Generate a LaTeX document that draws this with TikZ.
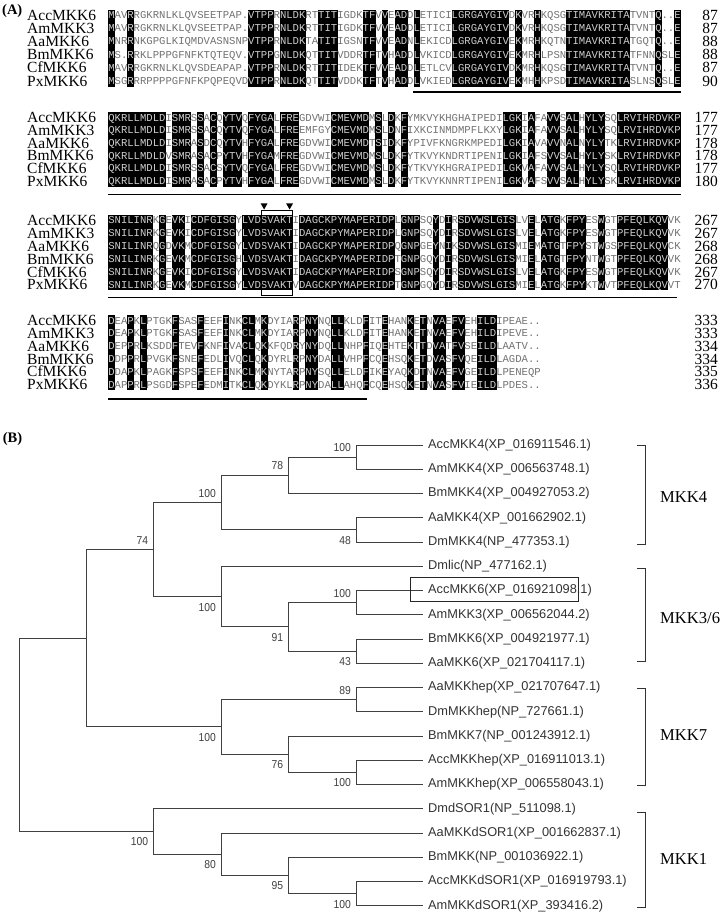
\documentclass[tikz,border=0pt]{standalone}
\usepackage{graphicx}
\usepackage{fontspec}
\setmainfont{Liberation Serif}
\newfontfamily\seqfont{Liberation Mono}
\newfontfamily\arialf{Liberation Sans}
\definecolor{seqon}{gray}{0.80}
\definecolor{seqoff}{gray}{0.45}

\ExplSyntaxOn
\int_step_inline:nn {6} { \tl_new:c { g_aln_row#1_tl } }
\tl_new:N \l_aln_first_tl
\tl_new:N \l_aln_ch_tl
\tl_new:N \l_aln_x_tl
\tl_new:N \l_aln_xr_tl
\tl_new:N \l_aln_xc_tl
\tl_new:N \l_aln_y_tl
\tl_new:N \l_aln_col_tl
\tl_const:Nn \c_aln_dot_tl { . }
\bool_new:N \l_aln_cons_bool

\NewDocumentCommand \setrows { m m m m m m }
  {
    \tl_gset:cn { g_aln_row1_tl } {#1}
    \tl_gset:cn { g_aln_row2_tl } {#2}
    \tl_gset:cn { g_aln_row3_tl } {#3}
    \tl_gset:cn { g_aln_row4_tl } {#4}
    \tl_gset:cn { g_aln_row5_tl } {#5}
    \tl_gset:cn { g_aln_row6_tl } {#6}
  }

% #1 column, #2 x0, #3 column width, #4 first baseline, #5 row step, #6 box top, #7 box bottom
\cs_new_protected:Npn \aln_col:nnnnnnn #1#2#3#4#5#6#7
  {
    \tl_set:Nx \l_aln_first_tl { \tl_item:cn { g_aln_row1_tl } {#1} }
    \bool_set_true:N \l_aln_cons_bool
    \tl_if_eq:NNT \l_aln_first_tl \c_aln_dot_tl { \bool_set_false:N \l_aln_cons_bool }
    \int_step_inline:nnn {2} {6}
      {
        \tl_set:Nx \l_aln_ch_tl { \tl_item:cn { g_aln_row##1_tl } {#1} }
        \tl_if_eq:NNF \l_aln_ch_tl \l_aln_first_tl
          { \bool_set_false:N \l_aln_cons_bool }
      }
    \tl_set:Nx \l_aln_x_tl { \fp_eval:n { #2 + (#1 - 1) * #3 } }
    \tl_set:Nx \l_aln_xr_tl { \fp_eval:n { #2 + #1 * #3 + 0.3 } }
    \tl_set:Nx \l_aln_xc_tl { \fp_eval:n { #2 + (#1 - 0.5) * #3 } }
    \bool_if:NTF \l_aln_cons_bool
      {
        \tl_set:Nn \l_aln_col_tl { seqon }
        \fill[black]~(\l_aln_x_tl,#6)~rectangle~(\l_aln_xr_tl,#7);
      }
      { \tl_set:Nn \l_aln_col_tl { seqoff } }
    \int_step_inline:nnn {1} {6}
      {
        \tl_set:Nx \l_aln_ch_tl { \tl_item:cn { g_aln_row##1_tl } {#1} }
        \tl_set:Nx \l_aln_y_tl { \fp_eval:n { #4 + (##1 - 1) * #5 } }
        \node[seqch,text=\l_aln_col_tl]~at~(\l_aln_xc_tl,\l_aln_y_tl)~{\l_aln_ch_tl};
      }
  }

\NewDocumentCommand \drawblock { m m m m m m }
  {
    \int_step_inline:nn { \tl_count:c { g_aln_row1_tl } }
      { \aln_col:nnnnnnn {##1} {#1} {#2} {#3} {#4} {#5} {#6} }
  }
\ExplSyntaxOff

\newcommand\blocklabels[4]{%
  \foreach \rowname/\rownum [count=\i] in {#4} {
    \node[nm] (n#1\i) at (27,{#2+#3*(\i-1)}) {\rowname};
    \node[num] (c#1\i) at (718,{#2+#3*(\i-1)}) {\rownum};
  }}
\newcommand\bsv[1]{\scalebox{0.9}[1]{#1}}

\tikzset{
  seqch/.style={font=\seqfont\fontsize{10.6pt}{10.6pt}\selectfont, inner sep=0pt, anchor=base},
  nm/.style={font=\fontsize{15.5pt}{15.5pt}\selectfont, inner sep=0pt, anchor=base west, text height=10.4pt, text depth=0pt},
  num/.style={font=\fontsize{15.5pt}{15.5pt}\selectfont, inner sep=0pt, anchor=base east, text height=10.4pt, text depth=0pt},
  uline/.style={line width=1.4pt},
  tline/.style={draw=black!75, line width=0.9pt},
  leaf/.style={font=\arialf\fontsize{12.8pt}{12.8pt}\selectfont, text=black!80, anchor=west, inner xsep=5pt, inner ysep=1pt},
  bs/.style={font=\arialf\fontsize{11.5pt}{11.5pt}\selectfont, text=black!75, anchor=east, inner sep=0pt},
  clade/.style={font=\fontsize{16.6pt}{16.6pt}\selectfont, anchor=west, inner sep=0pt},
  panel/.style={font=\bfseries\fontsize{14.5pt}{14.5pt}\selectfont, anchor=west, inner sep=0pt},
  cbr/.style={draw=black!80, line width=0.9pt},
}

\begin{document}
\begin{tikzpicture}[x=1pt,y=-1pt]
\useasboundingbox (0,0) rectangle (720,913);
\fill[white] (0,0) rectangle (720,913);

% ---------------- Panel A ----------------
\node[panel] (pA) at (2,11.5) {(A)};

% block 1
\setrows
{MAVRRGKRNLKLQVSEETPAP.VTPPRNLDKRTTITIGDKTFVVEADDLETICILGRGAYGIVDKVRHKQSGTIMAVKRITATVNTQ..E}
{MAVRRGKRNLKLQVSEETPAP.VTPPRNLDKRTTITIGDKTFVVEADDLETICILGRGAYGIVDKVRHKQSGTIMAVKRITATVNTQ..E}
{MNRRNKGPGLKIQMDVASNSNPVTPPRNLDKTATITIGSNTFVVEADNLEKICDLGRGAYGIVEKMRHKQTNTIMAVKRITATGQTQ..E}
{MS.RRKLPPPGFNFKTQTEQV.VTPPGNLDKQTTITVDDRTFTVHADDLVKICDLGRGAYGIVEKMRHLPSNTIMAVKRITATFNNQSLE}
{MAVRRGKRNLKLQVSDEAPAP.VTPPRNLDKRTTITIDEKTFVVEADDLETLCVLGRGAYGIVDKMRHKQSGTIMAVKRITATVNTQ..E}
{MSGRRRPPPPGFNFKPQPEQVDVTPPRNLDKQTTITVDDKTFTVHADDLVKIEDLGRGAYGIVEKMHHKPSDTIMAVKRITASLNSQSLE}
\drawblock{108.3}{6.36}{18.5}{13.2}{9.5}{86.5}
\blocklabels{a}{20.1}{13.2}{AccMKK6/87,AmMKK3/87,AaMKK6/88,BmMKK6/88,CfMKK6/87,PxMKK6/90}
\draw[uline] (413.3,92) coordinate (u1a) -- (680.7,92) coordinate (u1b);

% block 2
\setrows
{QKRLLMDLDISMRSSACQYTVQFYGALFREGDVWICMEVMDMSLDKFYMKVYKHGHAIPEDILGKIAFAVVSALHYLYSQLRVIHRDVKP}
{QKRLLMDLDISMRSSACQYTVQFYGALFREEMFGYCMEVMDMSLDNFIXKCINMDMPFLKXYLGKIAFAVVSALHYLYSQLRVIHRDVKP}
{QKRLLMDLDISMRASDCQYTVHFYGALFREGDVWICMEVMDTSIDKFYPIVFKNGRKMPEDILGKIAVAVVNALNYLYTKLRVIHRDVKP}
{QKRLLMDLDVSMRASACPYTVHFYGAMFREGDVWICMEVMDMSLDKFYTKVYKNDRTIPENILGKIAFSVVSALHYLYSKLRVIHRDVKP}
{QKRLLMDLDISMRSSACSYTVQFYGALFREGDVWICMEVMDMSLDKFYTKVYKHGRAIPEDILGKVAFAVVSALHYLYSQLRVIHRDVKP}
{QKRLLMDLDISMRASACPYTVHFYGALFREGDVWICMEVMDMSLDKFYTKVYKNNRTIPENILGKVAFSVVSALHYLYSKLRVIHRDVKP}
\drawblock{108.3}{6.36}{121}{12.7}{112}{186.5}
\blocklabels{b}{122.6}{12.7}{AccMKK6/177,AmMKK3/177,AaMKK6/178,BmMKK6/178,CfMKK6/177,PxMKK6/180}
\draw[uline] (108.3,194.3) coordinate (u2a) -- (680.7,194.3) coordinate (u2b);

% block 3
\setrows
{SNILINRKGEVKICDFGISGYLVDSVAKTIDAGCKPYMAPERIDPLGNPSQYDIRSDVWSLGISLVELATGKFPYESWGTPFEQLKQVVK}
{SNILINRKGEVKICDFGISGYLVDSVAKTIDAGCKPYMAPERIDPLGNPSQYDIRSDVWSLGISLVELATGKFPYESWGTPFEQLKQVVK}
{SNILINRQGDVKMCDFGISGYLVDSVAKTIDAGCKPYMAPERIDPQGNPGEYNIKSDVWSLGISMIEMATGTFPYSTWGSPFEQLKQVCK}
{SNILINRKGEVKMCDFGISGHLVDSVAKTIDAGCKPYMAPERIDPTGNPGQYDIRSDVWSLGISMIELATGTFPYNTWGTPFEQLKQVVK}
{SNILINRKGEVKICDFGISGYLVDSVAKTIDAGCKPYMAPERIDPSGNPSQYDIRSDVWSLGISLVELATGKFPYESWGTPFEQLKQVVK}
{SNILINRKGEVKMCDFGISGYLVDSVAKTVDAGCKPYMAPERIDPTGNPGQYDIRSDVWSLGISMIELATGKFPYKTWVTPFEQLKQVVT}
\drawblock{108.3}{6.36}{223.8}{12.9}{215}{290.3}
\blocklabels{c}{225.4}{12.9}{AccMKK6/267,AmMKK3/267,AaMKK6/268,BmMKK6/268,CfMKK6/267,PxMKK6/270}
\draw[uline] (108.3,297.7) coordinate (u3a) -- (677,297.7) coordinate (u3b);
\draw[line width=0.8pt] (260.9,210) rectangle (292.7,295);
\fill (260.6,203.3) -- (267.6,203.3) -- (264.1,209.5) -- cycle;
\fill (286.1,203.3) -- (293.1,203.3) -- (289.6,209.5) -- cycle;

% block 4
\setrows
{DEAPKLPTGKFSASFEEFINKCLMKDYIARPNYNQLLKLDFITEHANKETNVAEFVEHILDIPEAE..}
{DEAPKLPTGKFSASFEEFINKCLMKDYIARPNYNQLLKLDFITEHANKETNVAEFVEHILDIPEVE..}
{DEPPRLKSDDFTEVFKNFIVACLQKKFQDRYNYDQLLNHPFIQEHTEKTTDVATFVSEILDLAATV..}
{DDPPRLPVGKFSNEFEDLIVQCLQKDYRLRPNYDALLVHPFCQEHSQKETDVASFVQEILDLAGDA..}
{DDAPKLPAGKFSPSFEEFINKCLMKNYTARPNYSQLLELDFIKEYAQKDTNVAEFVGEILDLPENEQP}
{DAPPRLPSGDFSPEFEDMITKCLQKDYKLRPNYDALLAHQFCQEHSQKETNVASFVIEILDLPDES..}
\drawblock{108.3}{6.36}{324}{12.8}{315}{390}
\blocklabels{d}{325.6}{12.8}{AccMKK6/333,AmMKK3/333,AaMKK6/334,BmMKK6/334,CfMKK6/335,PxMKK6/336}
\draw[uline] (108.3,399) coordinate (u4a) -- (367,399) coordinate (u4b);

% ---------------- Panel B ----------------
\node[panel] (pB) at (2.7,439) {(B)};

\foreach \lab [count=\i] in {
  AccMKK4(XP\_016911546.1), AmMKK4(XP\_006563748.1), BmMKK4(XP\_004927053.2),
  AaMKK4(XP\_001662902.1), DmMKK4(NP\_477353.1), Dmlic(NP\_477162.1),
  AccMKK6(XP\_016921098.1), AmMKK3(XP\_006562044.2), BmMKK6(XP\_004921977.1),
  AaMKK6(XP\_021704117.1), AaMKKhep(XP\_021707647.1), DmMKKhep(NP\_727661.1),
  BmMKK7(NP\_001243912.1), AccMKKhep(XP\_016911013.1), AmMKKhep(XP\_006558043.1),
  DmdSOR1(NP\_511098.1), AaMKKdSOR1(XP\_001662837.1), BmMKK(NP\_001036922.1),
  AccMKKdSOR1(XP\_016919793.1), AmMKKdSOR1(XP\_393416.2)}
  \node[leaf] (l\i) at (423,{445+24.25*(\i-1)}) {\lab};

\coordinate (R) at (19,734.9);
\coordinate (U) at (86,638.25);
\coordinate (NA) at (153.3,549.6);
\coordinate (N4) at (221,502.6);
\coordinate (NB) at (288.3,475.3);
\coordinate (ND) at (356,457.125);
\coordinate (NC) at (356,529.875);
\coordinate (N36) at (221,596.6);
\coordinate (NE) at (288.3,626.9);
\coordinate (NF) at (356,602.6);
\coordinate (NG) at (356,651.1);
\coordinate (N7) at (221,726.9);
\coordinate (NH) at (356,699.6);
\coordinate (NI) at (288.3,754.2);
\coordinate (NJ) at (356,772.4);
\coordinate (N1) at (153.3,831.5);
\coordinate (NK) at (221,854.2);
\coordinate (NL) at (288.3,875.4);
\coordinate (NM) at (356,893.6);

\draw[tline] (R) |- (U);   \draw[tline] (R) |- (N1);
\draw[tline] (U) |- (NA);  \draw[tline] (U) |- (N7);
\draw[tline] (NA) |- (N4); \draw[tline] (NA) |- (N36);
\draw[tline] (N4) |- (NB); \draw[tline] (N4) |- (NC);
\draw[tline] (NB) |- (ND); \draw[tline] (NB) |- (l3.west);
\draw[tline] (ND) |- (l1.west); \draw[tline] (ND) |- (l2.west);
\draw[tline] (NC) |- (l4.west); \draw[tline] (NC) |- (l5.west);
\draw[tline] (N36) |- (l6.west); \draw[tline] (N36) |- (NE);
\draw[tline] (NE) |- (NF); \draw[tline] (NE) |- (NG);
\draw[tline] (NF) |- (l7.west); \draw[tline] (NF) |- (l8.west);
\draw[tline] (NG) |- (l9.west); \draw[tline] (NG) |- (l10.west);
\draw[tline] (N7) |- (NH); \draw[tline] (N7) |- (NI);
\draw[tline] (NH) |- (l11.west); \draw[tline] (NH) |- (l12.west);
\draw[tline] (NI) |- (l13.west); \draw[tline] (NI) |- (NJ);
\draw[tline] (NJ) |- (l14.west); \draw[tline] (NJ) |- (l15.west);
\draw[tline] (N1) |- (l16.west); \draw[tline] (N1) |- (NK);
\draw[tline] (NK) |- (l17.west); \draw[tline] (NK) |- (NL);
\draw[tline] (NL) |- (l18.west); \draw[tline] (NL) |- (NM);
\draw[tline] (NM) |- (l19.west); \draw[tline] (NM) |- (l20.west);

% bootstrap values
\node[bs] (bD)  at ([shift={(-5,-9.3)}]ND)  {\bsv{100}};
\node[bs] (bB)  at ([shift={(-5,-9.3)}]NB)  {\bsv{78}};
\node[bs] (b4)  at ([shift={(-5,-9.3)}]N4)  {\bsv{100}};
\node[bs] (bA)  at ([shift={(-5,-9.3)}]NA)  {\bsv{74}};
\node[bs] (bF)  at ([shift={(-5,-9.3)}]NF)  {\bsv{100}};
\node[bs] (bH)  at ([shift={(-5,-9.3)}]NH)  {\bsv{89}};
\node[bs] (bC)  at ([shift={(-5,10.5)}]NC)  {\bsv{48}};
\node[bs] (b36) at ([shift={(-5,10.5)}]N36) {\bsv{100}};
\node[bs] (bE)  at ([shift={(-5,10.5)}]NE)  {\bsv{91}};
\node[bs] (bG)  at ([shift={(-5,10.5)}]NG)  {\bsv{43}};
\node[bs] (b7)  at ([shift={(-5,10.5)}]N7)  {\bsv{100}};
\node[bs] (bI)  at ([shift={(-5,10.5)}]NI)  {\bsv{76}};
\node[bs] (bJ)  at ([shift={(-5,10.5)}]NJ)  {\bsv{100}};
\node[bs] (b1)  at ([shift={(-5,10.5)}]N1)  {\bsv{100}};
\node[bs] (bK)  at ([shift={(-5,10.5)}]NK)  {\bsv{80}};
\node[bs] (bL)  at ([shift={(-5,10.5)}]NL)  {\bsv{95}};
\node[bs] (bM)  at ([shift={(-5,10.5)}]NM)  {\bsv{100}};

% highlight box
\node[draw=black!85, line width=0.9pt, minimum width=167.6pt, minimum height=24.4pt, inner sep=0pt] (hl) at (494.5,589.5) {};

% clade brackets
\draw[cbr] (637,445) -- (645,445) -- (645,544) -- (637,544);
\draw[cbr] (637,568) -- (645,568) -- (645,661) -- (637,661);
\draw[cbr] (637,688) -- (645,688) -- (645,785) -- (637,785);
\draw[cbr] (637,812) -- (645,812) -- (645,907) -- (637,907);
\node[clade] (k4)  at (660,496.7) {MKK4};
\node[clade] (k36) at (660,618) {MKK3/6};
\node[clade] (k7)  at (660,735) {MKK7};
\node[clade] (k1)  at (660,859.3) {MKK1};
\end{tikzpicture}
\end{document}
